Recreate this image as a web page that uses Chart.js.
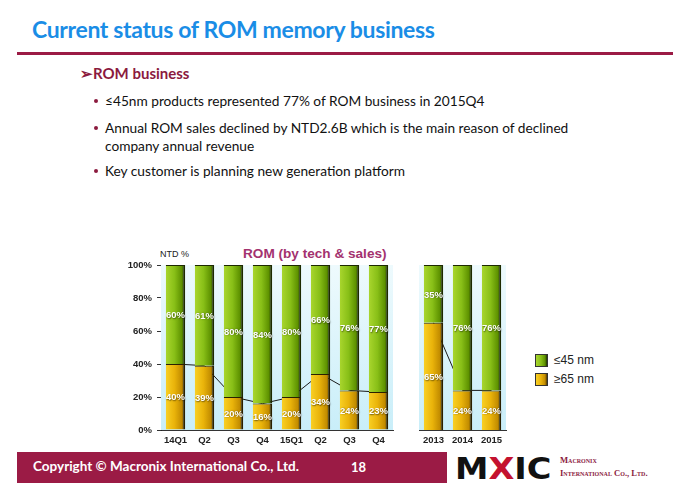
<!DOCTYPE html>
<html><head><meta charset="utf-8">
<script src="https://cdn.jsdelivr.net/npm/chart.js@4/dist/chart.umd.min.js"></script>
<style>
html,body{margin:0;padding:0;background:#fff;width:690px;height:484px;overflow:hidden;}
body{position:relative;font-family:Lato,"Open Sans",sans-serif;}
.abs{position:absolute;white-space:nowrap;line-height:1;}
#title{left:32px;top:18px;font-size:23px;font-weight:bold;color:#1a8de6;letter-spacing:-0.35px;}
#rule{position:absolute;left:17px;top:52px;width:656px;height:3px;background:#9b1b45;}
#sub{left:80px;top:66px;font-size:15px;font-weight:bold;color:#8b1a3e;}
.dot{position:absolute;width:4px;height:4px;border-radius:50%;background:#8b1a3e;}
.bul{left:105px;font-size:13.7px;color:#111;}
#c1{position:absolute;left:110px;top:240px;}
#c2{position:absolute;left:400px;top:240px;}
#ntd{left:160px;top:249px;font:9px "Liberation Sans",Arial,sans-serif;color:#222;}
#ctitle{left:243px;top:246px;font:bold 13.6px "Liberation Sans",Arial,sans-serif;color:#a3326f;}
.lg{position:absolute;left:535px;font:12px "Liberation Sans",Arial,sans-serif;color:#222;display:flex;align-items:center;}
.lg i{display:inline-block;width:11px;height:11px;border:1px solid #333;margin-right:6px;}
#band{position:absolute;left:17px;top:452px;width:430px;height:31px;background:#9b1b45;}
#copy{left:33px;top:460px;font-size:13.5px;font-weight:bold;color:#fff;}
#pg{left:351px;top:461px;font-size:13px;font-weight:bold;color:#fff;}
#logo{left:455px;top:451px;font:900 30px "DejaVu Sans",sans-serif;color:#111;letter-spacing:0px;transform:scaleX(1.12);transform-origin:left top;}
#logo span{color:#c4122f;}
.co{left:560px;font:8.6px "Liberation Serif","DejaVu Serif",serif;color:#8b1a3e;font-variant:small-caps;font-weight:bold;}
</style></head>
<body>
<div id="title" class="abs">Current status of ROM memory business</div>
<div id="rule"></div>
<div id="sub" class="abs">&#x27A2;ROM business</div>
<div class="dot" style="left:94px;top:99px"></div>
<div class="bul abs" style="top:94px">≤45nm products represented 77% of ROM business in 2015Q4</div>
<div class="dot" style="left:94px;top:126px"></div>
<div class="bul abs" style="top:121px">Annual ROM sales declined by NTD2.6B which is the main reason of declined</div>
<div class="bul abs" style="top:139px">company annual revenue</div>
<div class="dot" style="left:94px;top:169px"></div>
<div class="bul abs" style="top:164px">Key customer is planning new generation platform</div>

<div id="ntd" class="abs">NTD %</div>
<div id="ctitle" class="abs">ROM (by tech &amp; sales)</div>
<canvas id="c1" width="290" height="210"></canvas>
<canvas id="c2" width="115" height="210"></canvas>
<div id="legend"></div>

<div id="band"></div>
<div id="copy" class="abs">Copyright © Macronix International Co., Ltd.</div>
<div id="pg" class="abs">18</div>
<div id="logo" class="abs">M<span>X</span>IC</div>
<div class="co abs" style="top:455px">Macronix</div>
<div class="co abs" style="top:468px">International Co., Ltd.</div>

<script>
// ---- data ----
const quarterLabels = ["14Q1","Q2","Q3","Q4","15Q1","Q2","Q3","Q4"];
const quarterLe45 = [60,61,80,84,80,66,76,77];
const quarterGe65 = [40,39,20,16,20,34,24,23];
const yearLabels = ["2013","2014","2015"];
const yearLe45 = [35,76,76];
const yearGe65 = [65,24,24];
const seriesNames = ["≤45 nm","≥65 nm"];
const yTicks = [0,20,40,60,80,100];

const FONT = '"Liberation Sans", Arial, sans-serif';
const greenStops = [[0,'#a9d62e'],[0.45,'#88bf17'],[0.82,'#5e9200'],[1,'#1f3300']];
const orangeStops = [[0,'#f9d024'],[0.45,'#e9b30a'],[0.82,'#c28c00'],[1,'#4e3800']];
const BAR_PCT = 0.67;

function barGradient(stops, solid){
  return (c) => {
    const chart = c.chart, xs = chart.scales.x;
    if (!chart.chartArea || !xs || c.dataIndex == null) return solid;
    const cx = xs.getPixelForValue(c.dataIndex);
    const w = xs.width / chart.data.labels.length * BAR_PCT;
    const g = chart.ctx.createLinearGradient(cx - w/2, 0, cx + w/2, 0);
    stops.forEach(s => g.addColorStop(s[0], s[1]));
    return g;
  };
}

const bgPlugin = {
  id: 'bg',
  beforeDatasetsDraw(chart){
    const {ctx, chartArea:a} = chart;
    const g = ctx.createLinearGradient(0, a.top, 0, a.bottom);
    g.addColorStop(0, '#eefafd'); g.addColorStop(1, '#c9eef9');
    ctx.save(); ctx.fillStyle = g; ctx.fillRect(a.left, a.top, a.right - a.left, a.bottom - a.top); ctx.restore();
  }
};
const labelPlugin = {
  id: 'vlabels',
  afterDatasetsDraw(chart){
    const ctx = chart.ctx;
    ctx.save();
    ctx.font = 'bold 9.5px ' + FONT;
    ctx.textAlign = 'center'; ctx.textBaseline = 'middle';
    ctx.shadowColor = 'rgba(0,0,0,0.55)'; ctx.shadowBlur = 1.5; ctx.shadowOffsetX = 0.5; ctx.shadowOffsetY = 0.5;
    ctx.fillStyle = '#fff';
    chart.data.datasets.forEach((ds, di) => {
      if (ds.type !== 'bar') return;
      chart.getDatasetMeta(di).data.forEach((el, i) => {
        ctx.fillText(ds.data[i] + '%', el.x, (el.y + el.base) / 2 + 1);
      });
    });
    ctx.restore();
  }
};

function makeChart(id, labels, le45, ge65, yAxisWidth, padLeft, padRight){
  const border = {top:1, right:2, bottom:0, left:0};
  return new Chart(document.getElementById(id), {
    data: {
      labels,
      datasets: [
        {type:'bar', label:seriesNames[1], data:ge65, stack:'rom', order:1,
         backgroundColor: barGradient(orangeStops,'#e6ae0c'), borderColor:'#2a2000', borderWidth:border, borderSkipped:false,
         barPercentage:BAR_PCT, categoryPercentage:1},
        {type:'bar', label:seriesNames[0], data:le45, stack:'rom', order:1,
         backgroundColor: barGradient(greenStops,'#7ab51d'), borderColor:'#1d2a00', borderWidth:border, borderSkipped:false,
         barPercentage:BAR_PCT, categoryPercentage:1},
        {type:'line', label:'trend', data:ge65, stack:'trend', order:10,
         borderColor:'#1a1a1a', borderWidth:1, pointRadius:0, fill:false, tension:0}
      ]
    },
    options: {
      responsive:false, animation:false,
      layout:{padding:{top:25, right:padRight, left:padLeft, bottom:0}},
      plugins:{legend:{display:false}, tooltip:{enabled:false}},
      scales:{
        x:{ stacked:true, offset:true,
            grid:{display:false, drawTicks:false},
            border:{display:true, color:'#333', width:1},
            ticks:{font:{family:FONT, size:9.5, weight:'bold'}, color:'#222', padding:5, maxRotation:0, autoSkip:false},
            afterFit(s){ s.height = 20; } },
        y:{ stacked:true, min:0, max:100, display: yAxisWidth > 0,
            afterBuildTicks(s){ s.ticks = yTicks.map(v => ({value:v})); },
            grid:{drawOnChartArea:false, drawTicks:true, tickLength:4, color:'#333'},
            border:{display:true, color:'#222', width:1},
            ticks:{font:{family:FONT, size:9.5, weight:'bold'}, color:'#222', padding:5, callback:v => v + '%'},
            afterFit(s){ s.width = yAxisWidth; } }
      }
    },
    plugins:[bgPlugin, labelPlugin]
  });
}

makeChart('c1', quarterLabels, quarterLe45, quarterGe65, 51, 0, 7);
makeChart('c2', yearLabels, yearLe45, yearGe65, 0, 19, 9);

// legend built from series names
const lg = document.getElementById('legend');
[[seriesNames[0], greenStops, 353],[seriesNames[1], orangeStops, 372]].forEach(([name, stops, top]) => {
  const d = document.createElement('div'); d.className = 'lg'; d.style.top = top + 'px';
  const i = document.createElement('i');
  i.style.background = 'linear-gradient(to right,' + stops.map(s => s[1] + ' ' + (s[0]*100) + '%').join(',') + ')';
  d.appendChild(i); d.appendChild(document.createTextNode(name)); lg.appendChild(d);
});
</script>
</body></html>
